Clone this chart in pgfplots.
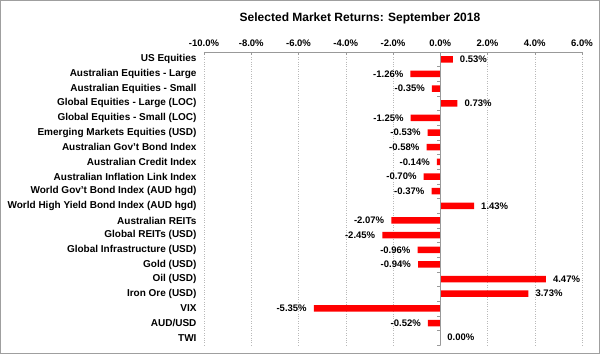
\documentclass[border=0pt]{standalone}
\usepackage{pgfplots}
\pgfplotsset{compat=1.18}
\usepackage{fontspec}
\setmainfont{Liberation Sans}
\begin{document}
\begin{tikzpicture}[x=1pt,y=1pt]
\useasboundingbox (0,0) rectangle (600,354);
\draw[gray!75, line width=1pt] (0.5,0.5) rectangle (599.5,353.5);
\node[font=\fontsize{12}{14}\selectfont\bfseries] at (360,336) {Selected Market Returns: September 2018};
\begin{axis}[
  at={(204pt,9pt)}, anchor=south west,
  scale only axis, width=378pt, height=293pt,
  xmin=-10, xmax=6, ymin=-0.5, ymax=19.5, y dir=reverse,
  /pgf/number format/assume math mode=true,
  axis x line*=top, axis y line*=left,
  x axis line style={-, gray!80},
  y axis line style={draw=none},
  xtick={-10,-8,-6,-4,-2,0,2,4,6},
  xticklabels={-10.0\%,-8.0\%,-6.0\%,-4.0\%,-2.0\%,0.0\%,2.0\%,4.0\%,6.0\%},
  xtick align=inside, major tick length=3pt,
  x tick style={gray!80},
  xticklabel style={font=\fontsize{9.5}{11}\selectfont\bfseries, yshift=2pt},
  xmajorgrids, grid style={gray!55, dotted},
  ytick={0,...,19},
  yticklabels={US Equities,Australian Equities - Large,Australian Equities - Small,Global Equities - Large (LOC),Global Equities - Small (LOC),Emerging Markets Equities (USD),Australian Gov't Bond Index,Australian Credit Index,Australian Inflation Link Index,World Gov't Bond Index (AUD hgd),World High Yield Bond Index (AUD hgd),Australian REITs,Global REITs (USD),Global Infrastructure (USD),Gold (USD),Oil (USD),Iron Ore (USD),VIX,AUD/USD,TWI},
  y tick style={draw=none},
  yticklabel style={font=\fontsize{10}{12}\selectfont\bfseries, xshift=-4pt},
]
\addplot[xbar, fill=red, draw=none, bar width=6.5pt,
  point meta=x,
  nodes near coords={\pgfmathprintnumber[fixed,fixed zerofill,precision=2]{\pgfplotspointmeta}\%},
  nodes near coords align=horizontal,
  every node near coord/.append style={font=\fontsize{9.5}{11}\selectfont\bfseries, inner xsep=7pt, inner ysep=0pt, text=black},
] coordinates {
(0.53,0) (-1.26,1) (-0.35,2) (0.73,3) (-1.25,4) (-0.53,5) (-0.58,6) (-0.14,7) (-0.70,8) (-0.37,9)
(1.43,10) (-2.07,11) (-2.45,12) (-0.96,13) (-0.94,14) (4.47,15) (3.73,16) (-5.35,17) (-0.52,18) (0.00,19)
};
\draw[gray!80] (axis cs:0,-0.5) -- (axis cs:0,19.5);
\pgfplotsinvokeforeach{-0.5,0.5,...,19.5}{\draw[gray!80] (axis cs:0,#1) -- ([xshift=-3pt]axis cs:0,#1);}
\end{axis}
\end{tikzpicture}
\end{document}
